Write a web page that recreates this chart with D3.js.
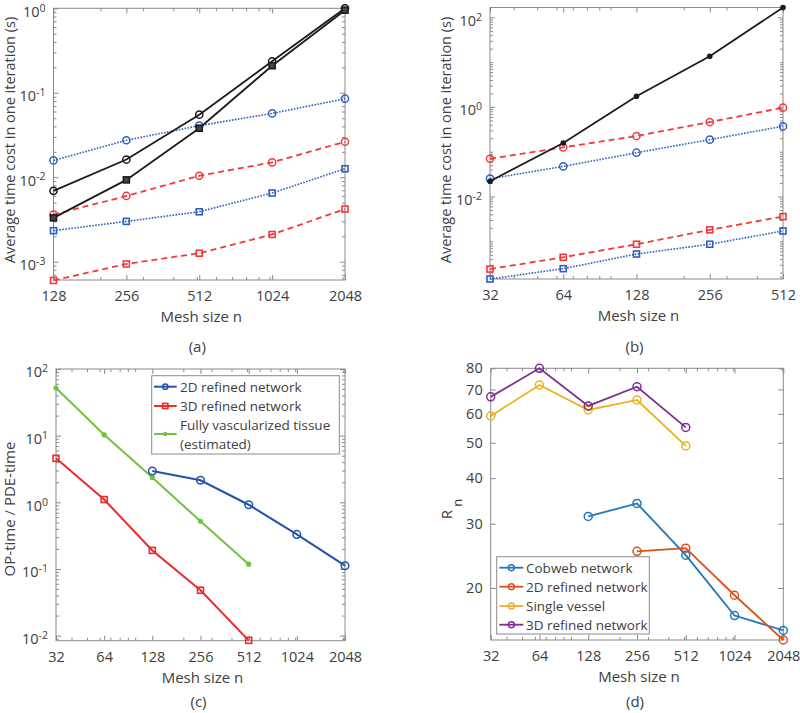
<!DOCTYPE html>
<html lang="en">
<head>
  <meta charset="UTF-8">
  <title>mesh size timing</title>
  <script src="https://d3js.org/d3.v7.min.js"></script>
  <style>
    body { margin: 0; background: #fff; }
    text { font-family: "Open Sans", sans-serif; fill: #404040; }
  </style>
</head>
<body>
  <svg id="fig" width="800" height="713"></svg>
  <script>
    // ---- data ----
    const meshA = [128, 256, 512, 1024, 2048];
    const aBlackCirc = [0.0069, 0.0162, 0.055, 0.236, 1.0];
    const aBlackSq = [0.0033, 0.0093, 0.038, 0.209, 0.95];
    const aBlueCirc = [0.0158, 0.0274, 0.0408, 0.057, 0.085];
    const aRedCirc = [0.0036, 0.0060, 0.0104, 0.0150, 0.0263];
    const aBlueSq = [0.00233, 0.0030, 0.0039, 0.0065, 0.0126];
    const aRedSq = [0.0006, 0.00094, 0.00126, 0.0021, 0.0042];

    const meshB = [32, 64, 128, 256, 512];
    const bBlack = [0.0219, 0.157, 1.73, 13.5, 166];
    const bRedCirc = [0.0697, 0.125, 0.224, 0.46, 0.965];
    const bBlueCirc = [0.025, 0.047, 0.095, 0.186, 0.37];
    const bRedSq = [0.00024, 0.00044, 0.00086, 0.0018, 0.00357];
    const bBlueSq = [0.000144, 0.000245, 0.00052, 0.00086, 0.0017];

    const meshC = [32, 64, 128, 256, 512, 1024, 2048];
    const c2D = [null, null, 2.95, 2.14, 0.92, 0.33, 0.112];
    const c3D = [4.57, 1.1, 0.19, 0.048, 0.0085, null, null];
    const cFull = [51.9, 10.3, 2.35, 0.52, 0.118, null, null];
    const cLegend = ['2D refined network', '3D refined network', 'Fully vascularized tissue', '(estimated)'];

    const meshD = [32, 64, 128, 256, 512, 1024, 2048];
    const dCobweb = [null, null, 31.4, 34.1, 24.6, 16.8, 15.3];
    const d2D = [null, null, null, 25.2, 25.7, 19.1, 14.4];
    const dSingle = [59.2, 72.0, 61.5, 65.5, 49.0, null, null];
    const d3D = [66.8, 80, 63.1, 71.2, 55.1, null, null];
    const dLegend = ['Cobweb network', '2D refined network', 'Single vessel', '3D refined network'];

    const svg = d3.select('svg#fig');
    const axisCol = '#8a8a8a';

    function minorTicks(domain, majors) {
      const out = [];
      for (let e = -5; e <= 4; e++) {
        for (let m = 1; m < 10; m++) {
          const v = m * Math.pow(10, e);
          if (v > domain[0] * 1.0001 && v < domain[1] * 0.9999 && !majors.some(t => Math.abs(t / v - 1) < 1e-6)) out.push(v);
        }
      }
      return out;
    }

    function expLabels(sel) {
      // turn "0.01" style ticks into 10^k with a raised exponent
      sel.selectAll('.tick text').each(function (d) {
        const t = d3.select(this);
        const k = Math.round(Math.log10(d));
        t.text('').attr('dy', '0.55em');
        t.append('tspan').text('10');
        t.append('tspan').attr('dy', '-0.5em').style('font-size', '10.5px').text(k);
      });
    }

    function panel(p) {
      const x = d3.scaleLog().base(2).domain(p.xd).range([p.x0, p.x1]);
      const y = d3.scaleLog().domain(p.yd).range([p.y1, p.y0]);
      const g = svg.append('g');
      const xMinor = minorTicks(p.xd, p.xt);
      const yMinor = p.yMinor ? minorTicks(p.yd, p.yt) : [];

      // minor ticks all four sides
      const mk = [
        [d3.axisBottom(x).tickValues(xMinor), `translate(0,${p.y1})`],
        [d3.axisTop(x).tickValues(xMinor), `translate(0,${p.y0})`],
        [d3.axisLeft(y).tickValues(yMinor), `translate(${p.x0},0)`],
        [d3.axisRight(y).tickValues(yMinor), `translate(${p.x1},0)`]
      ];
      mk.forEach(([ax, tr]) => {
        g.append('g').attr('transform', tr)
          .call(ax.tickSizeInner(-3).tickSizeOuter(0).tickFormat(''))
          .call(s => s.select('.domain').remove())
          .selectAll('line').attr('stroke', axisCol);
      });
      // major ticks, mirrored on top/right
      g.append('g').attr('transform', `translate(0,${p.y1})`)
        .call(d3.axisBottom(x).tickValues(p.xt).tickSizeInner(-5).tickSizeOuter(0).tickPadding(11).tickFormat(d3.format('d')));
      const yl = g.append('g').attr('transform', `translate(${p.x0},0)`)
        .call(d3.axisLeft(y).tickValues(p.yt).tickSizeInner(-5).tickSizeOuter(0).tickPadding(8).tickFormat(d3.format('d')));
      g.append('g').attr('transform', `translate(0,${p.y0})`)
        .call(d3.axisTop(x).tickValues(p.xt).tickSizeInner(-5).tickSizeOuter(0).tickFormat(''));
      g.append('g').attr('transform', `translate(${p.x1},0)`)
        .call(d3.axisRight(y).tickValues(p.yt).tickSizeInner(-5).tickSizeOuter(0).tickFormat(''));
      g.selectAll('.domain').remove();
      g.selectAll('.tick line').attr('stroke', axisCol);
      g.selectAll('.tick text').style('font-size', '14.5px').attr('fill', '#404040').style('font-family', '"Open Sans", sans-serif');
      if (p.exp) expLabels(yl);

      g.append('rect').attr('x', p.x0).attr('y', p.y0)
        .attr('width', p.x1 - p.x0).attr('height', p.y1 - p.y0)
        .attr('fill', 'none').attr('stroke', axisCol).attr('stroke-width', 1);

      g.append('text').attr('x', (p.x0 + p.x1) / 2 + 2).attr('y', p.y1 + 42)
        .attr('text-anchor', 'middle').style('font-size', '15px').text('Mesh size n');
      g.append('text').attr('x', (p.x0 + p.x1) / 2 - 2).attr('y', p.tagY)
        .attr('text-anchor', 'middle').style('font-size', '15px').text(p.tag);
      return { x, y, g };
    }

    function series(P, xs, ys, s) {
      const pts = xs.map((v, i) => [v, ys[i]]).filter(d => d[1] != null);
      P.g.append('path').datum(pts)
        .attr('d', d3.line().x(d => P.x(d[0])).y(d => P.y(d[1])))
        .attr('fill', 'none').attr('stroke', s.color).attr('stroke-width', s.w || 1.6)
        .attr('stroke-dasharray', s.dash || null);
      drawMarkers(P.g, pts.map(d => [P.x(d[0]), P.y(d[1])]), s);
    }

    function drawMarkers(g, xy, s) {
      xy.forEach(([cx, cy]) => {
        if (s.marker === 'circle') {
          g.append('circle').attr('cx', cx).attr('cy', cy).attr('r', s.r || 3.6)
            .attr('fill', 'none').attr('stroke', s.color).attr('stroke-width', 1.5);
        } else if (s.marker === 'dot') {
          g.append('circle').attr('cx', cx).attr('cy', cy).attr('r', s.r || 2.8)
            .attr('fill', s.color);
        } else if (s.marker === 'square') {
          const h = s.r || 3;
          g.append('rect').attr('x', cx - h).attr('y', cy - h).attr('width', 2 * h).attr('height', 2 * h)
            .attr('fill', s.fill || 'none').attr('stroke', s.color).attr('stroke-width', 1.6);
        }
      });
    }

    const blue1 = '#2e5fbf', red1 = '#f23a3a', black1 = '#1c1c1c';
    const dotted = '1.6,1.4', dashed = '6,4';

    // (a)
    const A = panel({ x0: 53.5, x1: 345, y0: 8.3, y1: 280, xd: [128, 2048], yd: [6.07e-4, 1],
      xt: meshA, yt: [1e-3, 1e-2, 1e-1, 1], exp: true, yMinor: true, tag: '(a)', tagY: 352 });
    series(A, meshA, aBlueCirc, { color: blue1, dash: dotted, marker: 'circle' });
    series(A, meshA, aRedCirc, { color: red1, dash: dashed, marker: 'circle', w: 1.8 });
    series(A, meshA, aBlueSq, { color: blue1, dash: dotted, marker: 'square' });
    series(A, meshA, aRedSq, { color: red1, dash: dashed, marker: 'square', w: 1.8 });
    series(A, meshA, aBlackCirc, { color: black1, marker: 'circle', w: 1.8 });
    series(A, meshA, aBlackSq, { color: black1, marker: 'square', fill: '#444', w: 1.8 });
    A.g.append('text').attr('transform', 'translate(14.5,140) rotate(-90)')
      .attr('text-anchor', 'middle').style('font-size', '14.5px').text('Average time cost in one iteration (s)');

    // (b)
    const B = panel({ x0: 490, x1: 783, y0: 7.5, y1: 279, xd: [32, 512], yd: [1.44e-4, 166],
      xt: meshB, yt: [1e-2, 1, 1e2], exp: true, yMinor: true, tag: '(b)', tagY: 352 });
    series(B, meshB, bRedCirc, { color: red1, dash: dashed, marker: 'circle', w: 1.8 });
    series(B, meshB, bBlueCirc, { color: blue1, dash: dotted, marker: 'circle' });
    series(B, meshB, bRedSq, { color: red1, dash: dashed, marker: 'square', w: 1.8 });
    series(B, meshB, bBlueSq, { color: blue1, dash: dotted, marker: 'square' });
    series(B, meshB, bBlack, { color: black1, marker: 'dot', w: 1.8 });
    B.g.append('text').attr('transform', 'translate(451,140) rotate(-90)')
      .attr('text-anchor', 'middle').style('font-size', '14.5px').text('Average time cost in one iteration (s)');

    // (c)
    const blueC = '#2352aa', redC = '#ee2a2a', greenC = '#74c043';
    const C = panel({ x0: 56, x1: 345, y0: 369, y1: 640.7, xd: [32, 2048], yd: [0.0084, 100],
      xt: meshC, yt: [1e-2, 1e-1, 1, 10, 100], exp: true, yMinor: true, tag: '(c)', tagY: 707 });
    const cStyles = [
      { color: blueC, marker: 'circle', r: 3.8, w: 2 },
      { color: redC, marker: 'square', r: 3, w: 2 },
      { color: greenC, marker: 'dot', r: 2.6, w: 2 }
    ];
    series(C, meshC, cFull, cStyles[2]);
    series(C, meshC, c3D, cStyles[1]);
    series(C, meshC, c2D, cStyles[0]);
    C.g.append('text').attr('transform', 'translate(15,509) rotate(-90)')
      .attr('text-anchor', 'middle').style('font-size', '15px').text('OP-time / PDE-time');
    // legend (c)
    const lc = C.g.append('g');
    lc.append('rect').attr('x', 151.7).attr('y', 375.7).attr('width', 187.6).attr('height', 78.3)
      .attr('fill', '#fff').attr('stroke', axisCol);
    [386.7, 406, 434].forEach((ly, i) => {
      lc.append('line').attr('x1', 154).attr('x2', 176.7).attr('y1', ly).attr('y2', ly)
        .attr('stroke', cStyles[i].color).attr('stroke-width', 2);
      drawMarkers(lc, [[165.3, ly]], Object.assign({}, cStyles[i], { r: cStyles[i].marker === 'dot' ? 2.2 : 2.6 }));
    });
    [386.7, 406, 425, 444.3].forEach((ly, i) => {
      lc.append('text').attr('x', 180).attr('y', ly + 5).style('font-size', '13.5px').text(cLegend[i]);
    });

    // (d)
    const dCols = ['#1f77bd', '#d95319', '#edb120', '#7e2f8e'];
    const D = panel({ x0: 490.7, x1: 783.3, y0: 368.3, y1: 640, xd: [32, 2048], yd: [14.4, 80],
      xt: meshD, yt: [20, 30, 40, 50, 60, 70, 80], exp: false, yMinor: false, tag: '(d)', tagY: 707 });
    [dCobweb, d2D, dSingle, d3D].forEach((vals, i) => {
      series(D, meshD, vals, { color: dCols[i], marker: 'circle', r: 4, w: 1.8 });
    });
    const rn = D.g.append('text').attr('transform', 'translate(452,509) rotate(-90)')
      .attr('text-anchor', 'middle').style('font-size', '15px');
    rn.append('tspan').text('R');
    rn.append('tspan').attr('dx', '3').attr('dy', '0.75em').style('font-size', '13px').text('n');
    // legend (d)
    const ld = D.g.append('g');
    ld.append('rect').attr('x', 496.7).attr('y', 556.7).attr('width', 152.6).attr('height', 77.3)
      .attr('fill', '#fff').attr('stroke', axisCol);
    [567.7, 586.7, 606, 624.7].forEach((ly, i) => {
      ld.append('line').attr('x1', 499.3).attr('x2', 523.3).attr('y1', ly).attr('y2', ly)
        .attr('stroke', dCols[i]).attr('stroke-width', 1.8);
      drawMarkers(ld, [[511.3, ly]], { color: dCols[i], marker: 'circle', r: 3 });
      ld.append('text').attr('x', 526).attr('y', ly + 5).style('font-size', '13.5px').text(dLegend[i]);
    });
  </script>
</body>
</html>
